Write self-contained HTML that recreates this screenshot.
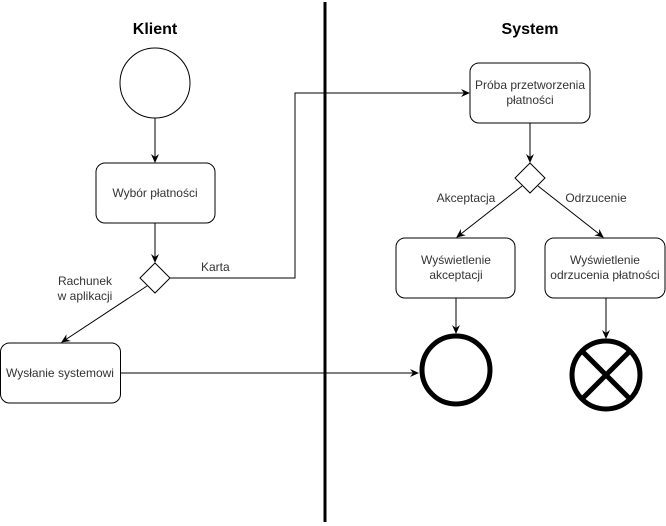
<!DOCTYPE html>
<html><head><meta charset="utf-8"><style>body{margin:0;background:#fff}svg{display:block}text{font-family:"Liberation Sans",sans-serif;font-size:12px;fill:#333}</style></head><body>
<svg width="666" height="526" viewBox="0 0 666 526">
<defs><marker id="a" markerWidth="10" markerHeight="10" refX="8" refY="5" orient="auto" markerUnits="userSpaceOnUse"><path d="M0,1 L9,5 L0,9 L3,5 Z" fill="#000"/></marker></defs>
<line x1="325" y1="2" x2="325" y2="522" stroke="#000" stroke-width="3"/>
<text x="155" y="34" text-anchor="middle" style="font-size:16px;font-weight:bold;fill:#000">Klient</text>
<text x="530" y="34" text-anchor="middle" style="font-size:16px;font-weight:bold;fill:#000">System</text>
<g fill="#fff" stroke="#000" stroke-width="1">
<circle cx="155" cy="83" r="35"/>
<rect x="96" y="163" width="119" height="60" rx="9"/>
<path d="M155,263 L170,278 L155,293 L140,278 Z"/>
<rect x="0.5" y="343" width="120" height="60" rx="9"/>
<rect x="470" y="63" width="120" height="60" rx="9"/>
<path d="M530,163 L545,178 L530,193 L515,178 Z"/>
<rect x="396" y="238" width="119" height="60" rx="9"/>
<rect x="545" y="238" width="120" height="60" rx="9"/>
</g>
<g stroke="#000" stroke-width="1" fill="none">
<line x1="155" y1="118" x2="155" y2="162" marker-end="url(#a)"/>
<line x1="155" y1="223" x2="155" y2="262" marker-end="url(#a)"/>
<polyline points="170,278 295,278 295,93 469,93" marker-end="url(#a)"/>
<line x1="147" y1="286" x2="62" y2="342" marker-end="url(#a)"/>
<line x1="120" y1="373" x2="418" y2="373" marker-end="url(#a)"/>
<line x1="530" y1="123" x2="530" y2="162" marker-end="url(#a)"/>
<line x1="522" y1="186" x2="457" y2="237" marker-end="url(#a)"/>
<line x1="538" y1="186" x2="603" y2="237" marker-end="url(#a)"/>
<line x1="456" y1="298" x2="456" y2="333" marker-end="url(#a)"/>
<line x1="606" y1="298" x2="606" y2="338" marker-end="url(#a)"/>
</g>
<circle cx="456" cy="370" r="34" fill="#fff" stroke="#000" stroke-width="5"/>
<circle cx="606" cy="375" r="34" fill="#fff" stroke="#000" stroke-width="5"/>
<g stroke="#000" stroke-width="5"><line x1="582" y1="351" x2="630" y2="399"/><line x1="630" y1="351" x2="582" y2="399"/></g>
<text x="155" y="197" text-anchor="middle">Wybór płatności</text>
<text x="60" y="377" text-anchor="middle">Wysłanie systemowi</text>
<text x="201" y="271">Karta</text>
<text x="85" y="285" text-anchor="middle">Rachunek</text>
<text x="85" y="300" text-anchor="middle">w aplikacji</text>
<text x="530" y="89" text-anchor="middle">Próba przetworzenia</text>
<text x="530" y="104" text-anchor="middle">płatności</text>
<text x="466" y="202" text-anchor="middle">Akceptacja</text>
<text x="596" y="202" text-anchor="middle">Odrzucenie</text>
<text x="456" y="264" text-anchor="middle">Wyświetlenie</text>
<text x="456" y="279" text-anchor="middle">akceptacji</text>
<text x="605" y="264" text-anchor="middle">Wyświetlenie</text>
<text x="605" y="279" text-anchor="middle">odrzucenia płatności</text>
</svg>
</body></html>
